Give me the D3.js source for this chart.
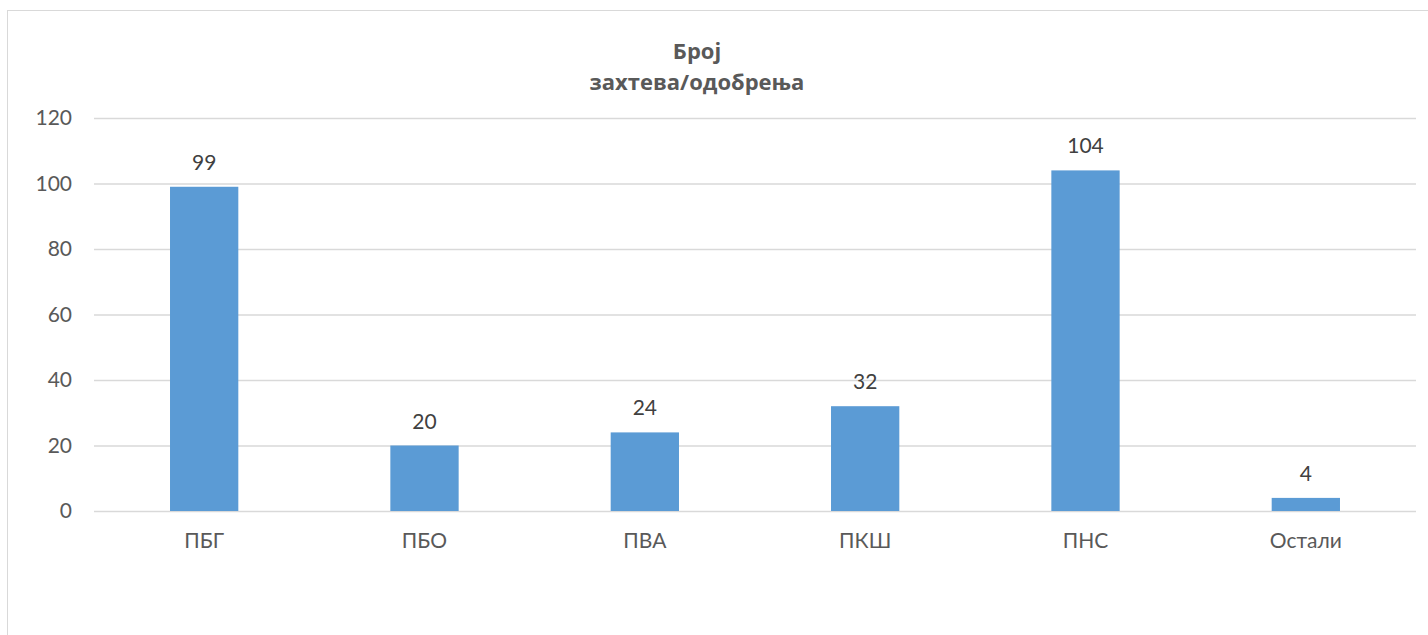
<!DOCTYPE html>
<html lang="sr">
<head>
<meta charset="UTF-8">
<title>Број захтева/одобрења</title>
<style>
  body { margin: 0; background: #fff; }
  svg { display: block; }
</style>
</head>
<body>
<script src="https://cdn.jsdelivr.net/npm/d3@7"></script>
<script>
  const categories = ['ПБГ', 'ПБО', 'ПВА', 'ПКШ', 'ПНС', 'Остали'];
  const values = [99, 20, 24, 32, 104, 4];
  const yTicks = [0, 20, 40, 60, 80, 100, 120];
  const titleLines = ['Број', 'захтева/одобрења'];

  const W = 1428, H = 635;
  const plot = { left: 94, right: 1416, top: 118, bottom: 511 };
  const font = 'Lato, "Open Sans", sans-serif';

  const svg = d3.select('body').append('svg')
    .attr('width', W)
    .attr('height', H);

  // chart frame
  svg.append('rect')
    .attr('x', 7.5).attr('y', 10.5)
    .attr('width', W + 20).attr('height', H + 20)
    .attr('fill', '#fff')
    .attr('stroke', '#d9d9d9')
    .attr('stroke-width', 1);

  const x = d3.scaleBand()
    .domain(categories)
    .range([plot.left, plot.right])
    .paddingInner(0.69)
    .paddingOuter(0.345);

  const y = d3.scaleLinear()
    .domain([0, 120])
    .range([plot.bottom, plot.top]);

  // gridlines + y labels
  const yAxis = d3.axisLeft(y)
    .tickValues(yTicks)
    .tickSize(-(plot.right - plot.left))
    .tickPadding(22);

  const gy = svg.append('g')
    .attr('transform', `translate(${plot.left},0)`)
    .call(yAxis);
  gy.select('.domain').remove();
  gy.selectAll('.tick line').attr('stroke', '#d9d9d9').attr('stroke-width', 1.3);
  gy.selectAll('.tick text')
    .attr('fill', '#595959')
    .style('font-family', font)
    .style('font-size', '21px');

  // x labels
  const xAxis = d3.axisBottom(x).tickSize(0).tickPadding(22);
  const gx = svg.append('g')
    .attr('transform', `translate(0,${plot.bottom})`)
    .call(xAxis);
  gx.select('.domain').remove();
  gx.selectAll('.tick text')
    .attr('fill', '#595959')
    .style('font-family', font)
    .style('font-size', '21px');

  // bars
  svg.append('g').selectAll('rect')
    .data(values)
    .join('rect')
    .attr('x', (d, i) => x(categories[i]))
    .attr('y', d => y(d))
    .attr('width', x.bandwidth())
    .attr('height', d => y(0) - y(d))
    .attr('fill', '#5b9bd5');

  // data labels
  svg.append('g').selectAll('text')
    .data(values)
    .join('text')
    .attr('x', (d, i) => x(categories[i]) + x.bandwidth() / 2)
    .attr('y', d => y(d) - 17)
    .attr('text-anchor', 'middle')
    .attr('fill', '#404040')
    .style('font-family', font)
    .style('font-size', '21px')
    .text(d => d);

  // title
  svg.append('text')
    .attr('x', 697)
    .attr('y', 59)
    .attr('text-anchor', 'middle')
    .attr('fill', '#595959')
    .style('font-family', '"Open Sans", Lato, sans-serif')
    .style('font-size', '22px')
    .style('font-weight', 'bold')
    .selectAll('tspan')
    .data(titleLines)
    .join('tspan')
    .attr('x', 697)
    .attr('dy', (d, i) => i === 0 ? 0 : 31)
    .text(d => d);
</script>
</body>
</html>
